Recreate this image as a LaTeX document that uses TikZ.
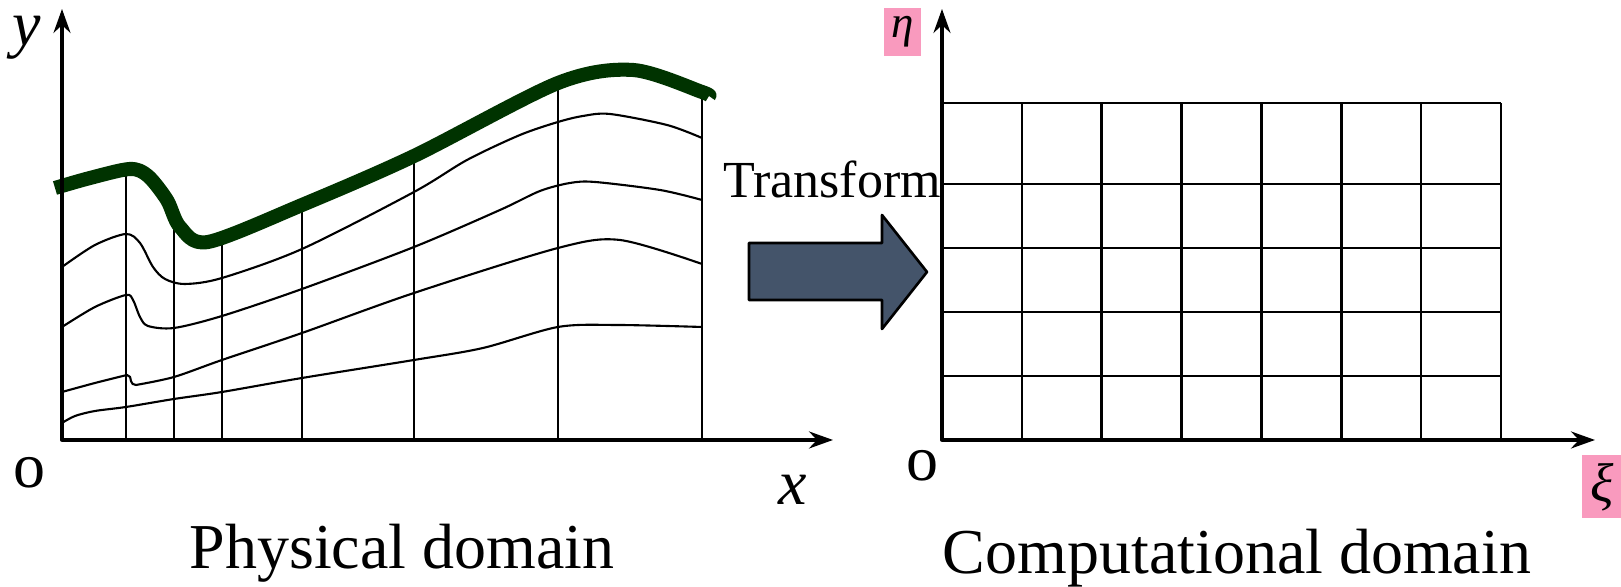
\documentclass[tikz,border=0pt]{standalone}
\usepackage{fontspec}
\setmainfont{Liberation Serif}
\usetikzlibrary{arrows.meta}

\begin{document}
\begin{tikzpicture}[line join=round,
    axispath/.style={line width=0.95pt, {Stealth[length=2.4mm, width=1.7mm, inset=0.8mm]}-{Stealth[length=2.4mm, width=1.7mm, inset=0.8mm]}},
    meshline/.style={line width=0.6pt},
    gridline/.style={line width=0.75pt},
    bigtext/.style={font=\fontsize{18.2}{20}\selectfont, inner sep=0pt},
    greek/.style={fill=labelpink, font=\fontsize{12.8}{14}\selectfont\itshape, inner sep=0pt, minimum width=0.37cm, minimum height=0.48cm}]

    % --- Colors ---
    \definecolor{wallgreen}{RGB}{0, 51, 0}
    \definecolor{blockfill}{RGB}{68, 84, 106}
    \definecolor{labelpink}{RGB}{249, 154, 190}

    \useasboundingbox (0,0) rectangle (16.21,5.87);

    % --- Coordinates ---
    \coordinate (o1) at (0.62, 1.47);
    \coordinate (ytip) at (0.62, 5.78);
    \coordinate (xtip) at (8.33, 1.47);

    \coordinate (o2) at (9.42, 1.47);
    \coordinate (etatip) at (9.42, 5.78);
    \coordinate (xitip) at (15.95, 1.47);

    % --- 1. Physical domain: vertical mesh lines ---
    \foreach \x/\top in {1.26/4.18, 1.74/3.73, 2.22/3.50, 3.02/3.82, 4.14/4.31, 5.58/5.04, 7.02/4.95} {
        \draw[meshline] (\x, 1.47) -- (\x, \top);
    }

    % --- 2. Physical domain: curved mesh lines ---
    \draw[meshline] plot[smooth] coordinates {(0.62,3.20) (0.95,3.42) (1.26,3.53) (1.40,3.44) (1.53,3.20) (1.65,3.08) (1.85,3.03) (2.22,3.09) (3.02,3.38) (4.14,3.95) (4.67,4.27) (5.20,4.52) (5.58,4.65) (5.83,4.71) (6.10,4.73) (6.67,4.62) (7.02,4.49)};
    \draw[meshline] plot[smooth] coordinates {(0.62,2.60) (0.95,2.80) (1.26,2.92) (1.33,2.87) (1.40,2.70) (1.48,2.61) (1.74,2.59) (2.22,2.71) (3.02,2.98) (4.14,3.40) (5.00,3.77) (5.40,3.96) (5.70,4.04) (5.95,4.05) (6.60,3.97) (7.02,3.87)};
    \draw[meshline] plot[smooth] coordinates {(0.62,1.95) (0.95,2.04) (1.27,2.12)}
        to[out=0, in=90] (1.31,2.06) to[out=-90, in=180] (1.36,2.02)
        -- plot[smooth] coordinates {(1.36,2.02) (1.74,2.10) (2.22,2.27) (3.02,2.54) (4.14,2.94) (5.58,3.39) (6.20,3.47) (7.02,3.23)};
    \draw[meshline] plot[smooth] coordinates {(0.62,1.64) (0.75,1.71) (0.95,1.76) (1.26,1.80) (1.74,1.88) (2.22,1.95) (3.02,2.09) (4.14,2.27) (4.83,2.39) (5.58,2.60) (6.17,2.62) (7.02,2.60)};

    % --- 3. Physical domain: upper wall ---
    \draw[wallgreen, line width=4pt] plot[smooth] coordinates {(0.55,3.99) (0.90,4.09) (1.30,4.18) (1.48,4.11) (1.67,3.87) (1.80,3.60) (2.08,3.45) (3.02,3.82) (4.14,4.31) (5.58,5.04) (6.33,5.17) (7.02,4.95) (7.09,4.91)};

    % --- 4. Computational domain: grid ---
    \foreach \i in {0,...,7} {
        \draw[gridline] ({9.42+0.7986*\i}, 1.47) -- ({9.42+0.7986*\i}, 4.84);
    }
    \foreach \y in {2.11, 2.75, 3.39, 4.03, 4.84} {
        \draw[gridline] (9.42, \y) -- (15.01, \y);
    }

    % --- 5. Axes ---
    \draw[axispath] (ytip) -- (o1) -- (xtip);
    \draw[axispath] (etatip) -- (o2) -- (xitip);

    % --- 6. Transform arrow ---
    \filldraw[fill=blockfill, draw=black, line width=0.75pt]
        (7.49,3.44) -- (8.82,3.44) -- (8.82,3.72) -- (9.27,3.15) -- (8.82,2.58) -- (8.82,2.87) -- (7.49,2.87) -- cycle;
    \node[font=\fontsize{14.8}{16}\selectfont, anchor=base, inner sep=0pt] (transformlabel) at (8.32, 3.89) {Transform};

    % --- 7. Labels ---
    \node[bigtext, anchor=base] (ylabel) at (0.27, 5.41) {\textit{y}};
    \node[bigtext, anchor=base] (xlabel) at (7.93, 0.82) {\textit{x}};
    \node[bigtext, anchor=base] (o1label) at (0.29, 0.99) {o};
    \node[bigtext, anchor=base] (o2label) at (9.22, 1.06) {o};
    \node[greek] (etalabel) at (9.025, 5.55) {η};
    \node[greek, font=\fontsize{15.5}{17}\selectfont\itshape, minimum width=0.40cm, minimum height=0.63cm] (xilabel) at (16.02, 1.00) {ξ};

    \node[bigtext, anchor=base] (physlabel) at (4.02, 0.18) {Physical domain};
    \node[bigtext, anchor=base] (complabel) at (12.37, 0.13) {Computational domain};

\end{tikzpicture}
\end{document}
